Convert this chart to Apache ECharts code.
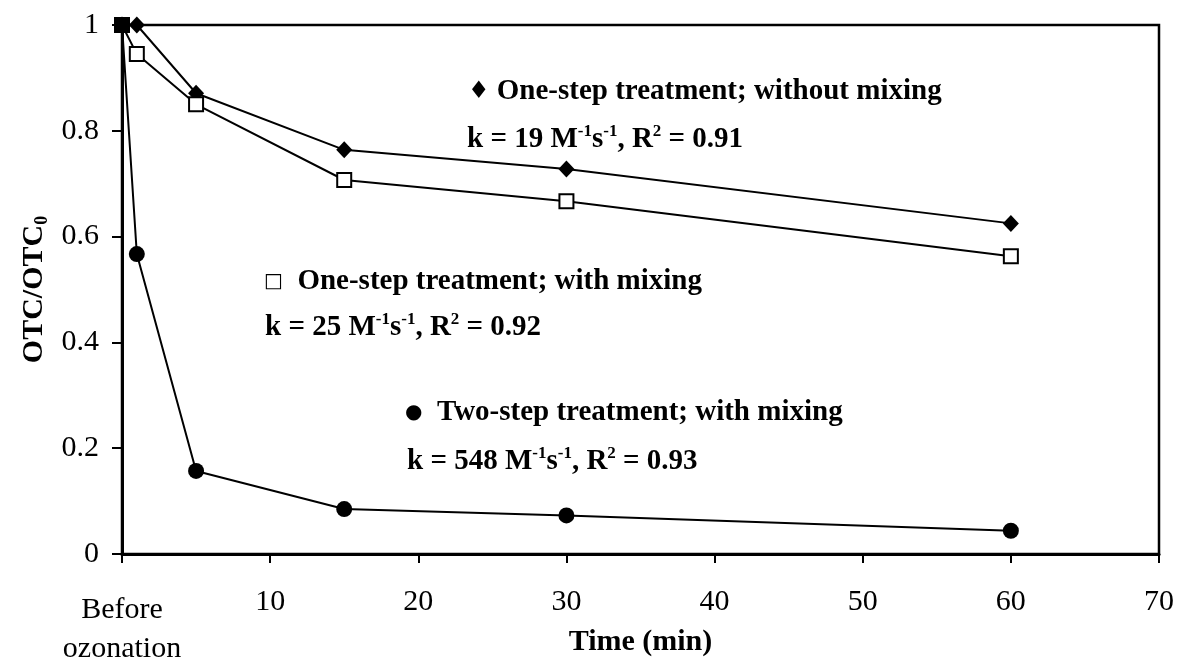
<!DOCTYPE html>
<html>
<head>
<meta charset="utf-8">
<script src="https://cdn.jsdelivr.net/npm/echarts@6/dist/echarts.min.js"></script>
<style>
  html, body { margin: 0; padding: 0; background: #ffffff; }
  #chart { width: 1177px; height: 659px; }
</style>
</head>
<body>
<div id="chart"></div>
<script>
// Ozonation time (min); 0 is the sample taken before ozonation
const timeMin = [0, 1, 5, 15, 30, 60];
// Normalised OTC concentration OTC/OTC0 for each treatment
const oneStepNoMix = [1, 1, 0.871, 0.764, 0.728, 0.625];
const oneStepMix = [1, 0.945, 0.850, 0.707, 0.667, 0.563];
const twoStepMix = [1, 0.567, 0.157, 0.085, 0.073, 0.044];

// Axis ranges and tick spacing
const xMin = 0, xMax = 70, xStep = 10;
const yMin = 0, yMax = 1, yStep = 0.2;
const zeroTimeLabel = ['Before', 'ozonation'];

// Annotation texts (rate constant fits)
const seriesNames = [
  'One-step treatment; without mixing',
  'One-step treatment; with mixing',
  'Two-step treatment; with mixing'
];
const rateK = ['19', '25', '548'];
const rateR2 = ['0.91', '0.92', '0.93'];

const SERIF = "'Liberation Serif', 'Times New Roman', serif";

function pairs(ys) {
  return timeMin.map((t, i) => [t, ys[i]]);
}

const lineStyle = { color: '#000', width: 2 };

const boldRich = {
  b: { fontFamily: SERIF, fontWeight: 'bold', fontSize: 29, lineHeight: 34, color: '#000' },
  sup: { fontFamily: SERIF, fontWeight: 'bold', fontSize: 17, lineHeight: 8, color: '#000', verticalAlign: 'top' },
  dia: { fontFamily: "'DejaVu Sans', sans-serif", fontSize: 24, lineHeight: 34, color: '#000' },
  box: { fontFamily: "'DejaVu Sans', sans-serif", fontSize: 20, lineHeight: 34, color: '#000' },
  dot: { fontFamily: "'DejaVu Sans', sans-serif", fontSize: 20, lineHeight: 34, color: '#000' }
};

function headerText(symStyle, sym, gap, name, x, y) {
  return {
    type: 'text', x: x, y: y,
    style: {
      text: '{' + symStyle + '|' + sym + '}{b|' + gap + name + '}',
      verticalAlign: 'middle', align: 'left',
      rich: boldRich
    },
    z: 10
  };
}

function rateText(i, x, y) {
  return {
    type: 'text', x: x, y: y,
    style: {
      text: '{b|k = ' + rateK[i] + ' M}{sup|-1}{b|s}{sup|-1}{b|, R}{sup|2}{b| = ' + rateR2[i] + '}',
      verticalAlign: 'middle', align: 'left',
      rich: boldRich
    },
    z: 10
  };
}

const chart = echarts.init(document.getElementById('chart'), null, { renderer: 'canvas' });

// The shared starting point is drawn as a solid square
const squareData = pairs(oneStepMix).map((p, i) => i === 0
  ? { value: p, itemStyle: { color: '#000' } }
  : p);

chart.setOption({
  backgroundColor: '#ffffff',
  animation: false,
  grid: {
    left: 122, right: 18, top: 25, bottom: 105,
    outerBoundsMode: 'none', containLabel: false,
    show: true, borderColor: '#000', borderWidth: 2.5, backgroundColor: 'transparent'
  },
  xAxis: {
    type: 'value', min: xMin, max: xMax, interval: xStep,
    name: 'Time (min)', nameLocation: 'middle', nameGap: 73, nameMoveOverlap: false,
    nameTextStyle: { fontFamily: SERIF, fontWeight: 'bold', fontSize: 30, color: '#000' },
    axisLine: { show: true, onZero: false, lineStyle: { color: '#000', width: 3 } },
    axisTick: { show: true, inside: false, length: 9, lineStyle: { color: '#000', width: 2 } },
    splitLine: { show: false },
    axisLabel: {
      margin: 37,
      color: '#000',
      formatter: function (v) {
        if (v === 0) return '{w|' + zeroTimeLabel[0] + '}\n{w|' + zeroTimeLabel[1] + '}';
        return '{n|' + v + '}';
      },
      rich: {
        n: { fontFamily: SERIF, fontSize: 30, lineHeight: 23, color: '#000' },
        w: { fontFamily: SERIF, fontSize: 30, lineHeight: 39, color: '#000' }
      }
    }
  },
  yAxis: {
    type: 'value', min: yMin, max: yMax, interval: yStep,
    name: '{a|OTC/OTC}{s|0}', nameLocation: 'middle', nameGap: 71, nameRotate: 90, nameMoveOverlap: false,
    nameTextStyle: {
      rich: {
        a: { fontFamily: SERIF, fontWeight: 'bold', fontSize: 30, lineHeight: 34, color: '#000' },
        s: { fontFamily: SERIF, fontWeight: 'bold', fontSize: 18, lineHeight: 34, color: '#000', verticalAlign: 'bottom' }
      }
    },
    axisLine: { show: true, onZero: false, lineStyle: { color: '#000', width: 3 } },
    axisTick: { show: true, inside: false, length: 10, lineStyle: { color: '#000', width: 2 } },
    splitLine: { show: false },
    axisLabel: { margin: 23, fontFamily: SERIF, fontSize: 30, color: '#000' }
  },
  series: [
    {
      name: seriesNames[0], type: 'line', data: pairs(oneStepNoMix),
      symbol: 'diamond', symbolSize: [16, 17], showAllSymbol: true,
      lineStyle: lineStyle, itemStyle: { color: '#000', borderWidth: 0 }, z: 3
    },
    {
      name: seriesNames[1], type: 'line', data: squareData,
      symbol: 'rect', symbolSize: 14, showAllSymbol: true,
      lineStyle: lineStyle, itemStyle: { color: '#fff', borderColor: '#000', borderWidth: 2 }, z: 4
    },
    {
      name: seriesNames[2], type: 'line', data: pairs(twoStepMix),
      symbol: 'circle', symbolSize: 16, showAllSymbol: true,
      lineStyle: lineStyle, itemStyle: { color: '#000', borderWidth: 0 }, z: 2
    }
  ],
  graphic: [
    headerText('dia', '\u2666', ' ', seriesNames[0], 468, 92),
    rateText(0, 467, 140),
    headerText('box', '\u25A1', '  ', seriesNames[1], 264, 282),
    rateText(1, 265, 328),
    headerText('dot', '\u25CF', '  ', seriesNames[2], 405, 413),
    rateText(2, 407, 462)
  ]
});
</script>
</body>
</html>
